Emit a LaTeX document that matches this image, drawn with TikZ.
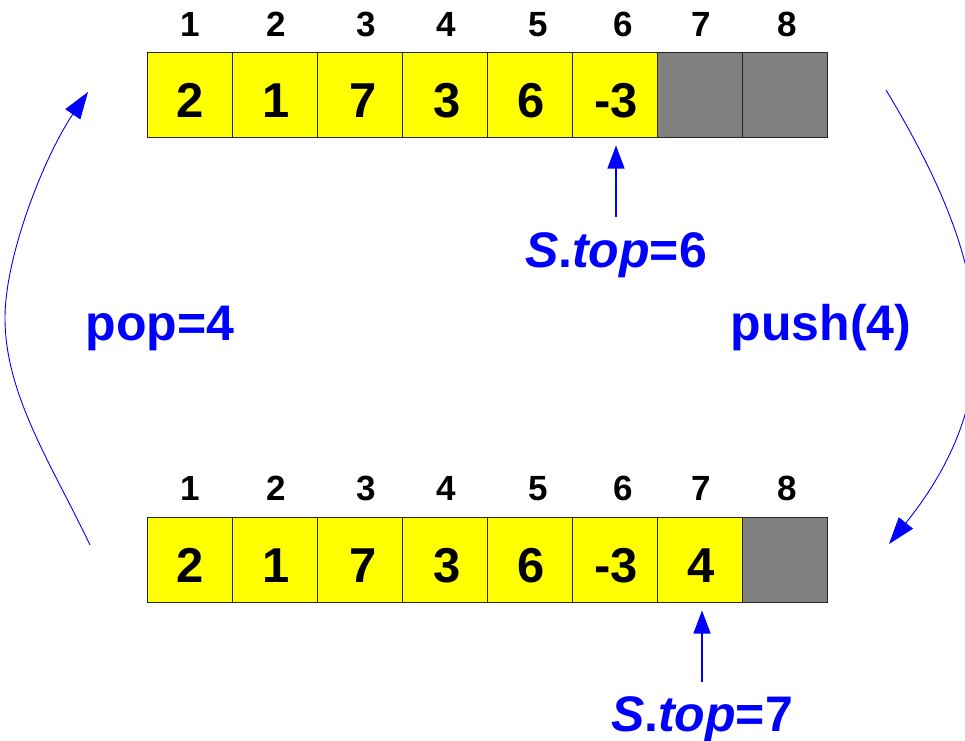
\documentclass[tikz,border=0pt]{standalone}
\usepackage{fontspec}
\setmainfont{Liberation Sans}
\usetikzlibrary{arrows.meta}
\definecolor{cellyellow}{RGB}{255,255,0}
\definecolor{cellgray}{RGB}{128,128,128}
\definecolor{pblue}{RGB}{0,0,255}
\begin{document}
\begin{tikzpicture}[x=1pt,y=-1pt,
  cellbox/.style={draw=black!85, line width=1pt, minimum width=85pt, minimum height=85pt, inner sep=0pt, anchor=center},
  fullcell/.style={cellbox, fill=cellyellow},
  emptycell/.style={cellbox, fill=cellgray},
  idx/.style={font=\fontsize{35}{35}\selectfont\bfseries, inner sep=0pt, anchor=base},
  num/.style={font=\fontsize{49}{49}\selectfont\bfseries, inner sep=0pt, anchor=base},
  lbl/.style={font=\fontsize{50}{50}\selectfont\bfseries, text=pblue, inner sep=0pt, anchor=base},
  ptr/.style={draw=pblue, line width=1.2pt, -{Triangle[length=23pt,width=17pt]}},
  arcarrow/.style={draw=pblue, line width=0.9pt, -{Triangle[length=27pt,width=18pt]}}
]
\clip (0,0) rectangle (965,740);
% top array
\foreach \i in {1,...,6} \node[fullcell] (t\i) at ({105+85*\i},94.5) {};
\foreach \i in {7,8} \node[emptycell] (t\i) at ({105+85*\i},94.5) {};
\foreach \x [count=\i] in {190,276,366,446,538,623,701,787}
  \node[idx] (ti\i) at (\x,36) {\i};
\foreach \v/\x [count=\i] in {2/190,1/276,7/363,3/447,6/531,-3/616}
  \node[num] (tv\i) at (\x,117) {\v};
% bottom array
\foreach \i in {1,...,7} \node[fullcell] (b\i) at ({105+85*\i},559.5) {};
\node[emptycell] (b8) at (785,559.5) {};
\foreach \x [count=\i] in {190,276,366,446,538,623,701,787}
  \node[idx] (bi\i) at (\x,500) {\i};
\foreach \v/\x [count=\i] in {2/190,1/276,7/363,3/447,6/531,-3/616,4/701}
  \node[num] (bv\i) at (\x,582) {\v};
% pointers
\node[lbl] (stop6) at (616,267) {\textit{S}.\textit{top}=6};
\draw[ptr, shorten <=15pt, shorten >=8pt] (stop6.north) -- (stop6.north |- t6.south);
\node[lbl] (stop7) at (702,731) {\textit{S}.\textit{top}=7};
\draw[ptr, shorten <=14pt, shorten >=8pt] (stop7.north) -- (stop7.north |- b7.south);
% operation labels
\node[lbl] (pop) at (160,340) {pop=4};
\node[lbl] (push) at (821,340) {push(4)};
% arcs
\coordinate (popstart) at (90,545);
\coordinate (popmid) at (5,318);
\coordinate (popend) at (88,92);
\coordinate (pushstart) at (886,90);
\coordinate (pushend) at (889,544);
\draw[arcarrow] (popstart) .. controls (52,465) and (5,395) .. (popmid)
                .. controls (5,255) and (45,155) .. (popend);
\draw[arcarrow] (pushstart) .. controls (983,251) and (1018,383) .. (pushend);
\end{tikzpicture}
\end{document}
